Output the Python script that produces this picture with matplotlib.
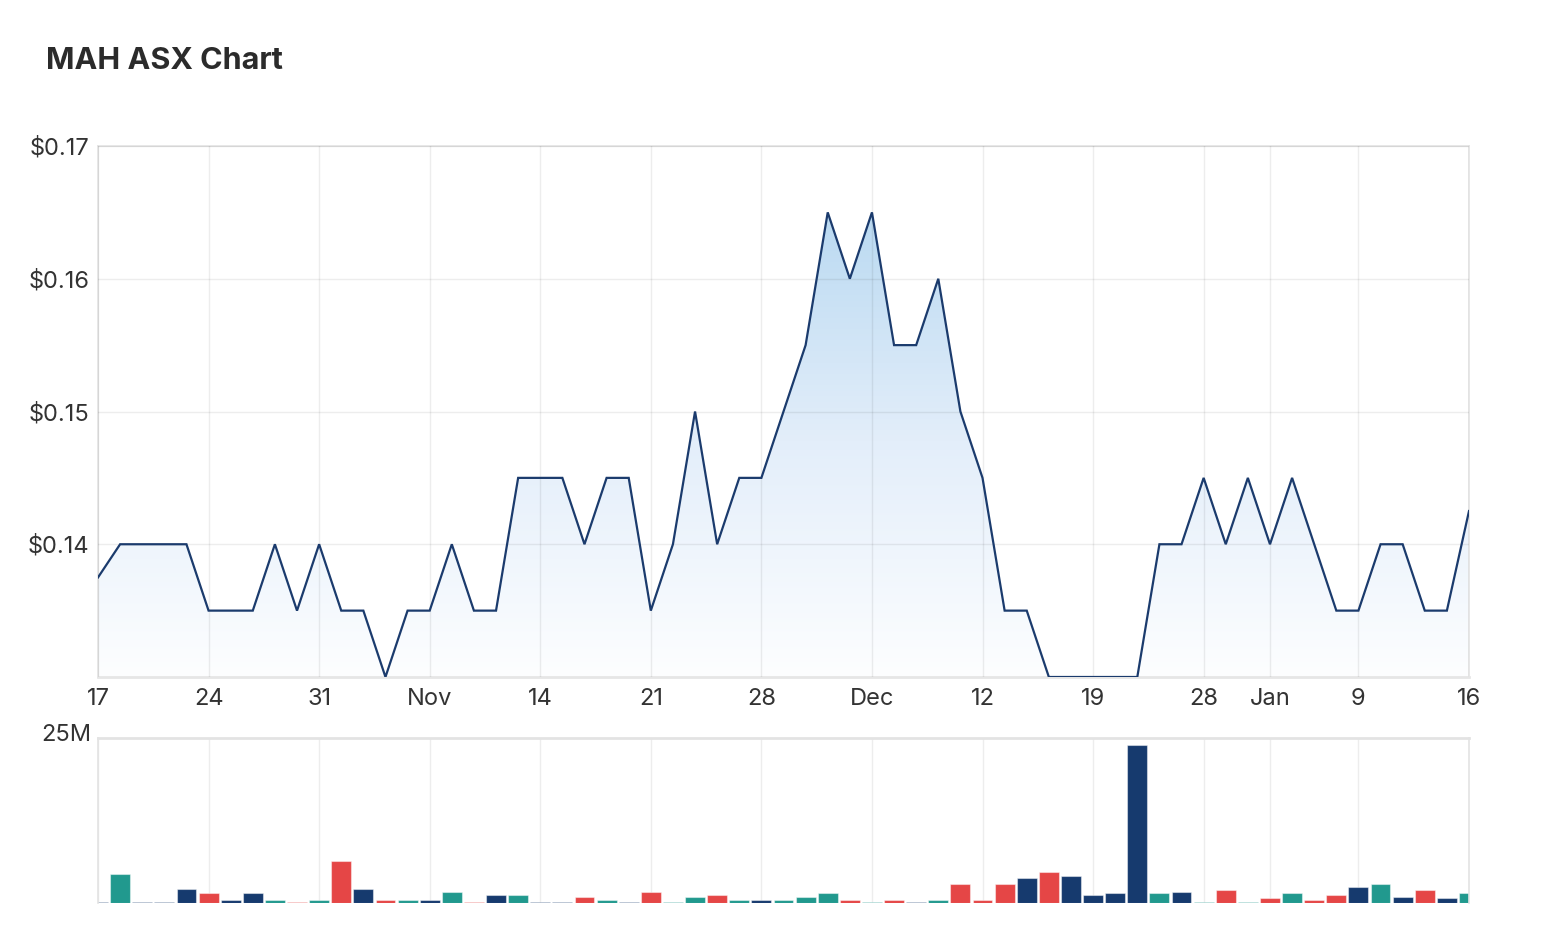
import numpy as np
import matplotlib.pyplot as plt
from matplotlib.colors import LinearSegmentedColormap

plt.rcParams['font.family'] = ['Inter', 'DejaVu Sans']

TXT = '#333333'
NAVY = '#163a6e'
TEAL = '#21998e'
RED = '#e54646'
GRID = (0, 0, 0, 0.07)
FS = 17

# trading days 17 Oct .. 16 Jan, one value per day
prices = [0.1375, 0.14, 0.14, 0.14, 0.14,
          0.135, 0.135, 0.135, 0.14, 0.135,
          0.14, 0.135, 0.135, 0.13, 0.135,
          0.135, 0.14, 0.135, 0.135, 0.145,
          0.145, 0.145, 0.14, 0.145, 0.145,
          0.135, 0.14, 0.15, 0.14, 0.145,
          0.145, 0.15, 0.155, 0.165, 0.16,
          0.165, 0.155, 0.155, 0.16, 0.15,
          0.145, 0.135, 0.135, 0.13, 0.13,
          0.13, 0.13, 0.13, 0.14, 0.14,
          0.145, 0.14, 0.145, 0.14, 0.145,
          0.14, 0.135, 0.135, 0.14, 0.14,
          0.135, 0.135, 0.1425]

# volume in millions
volumes = [0.15, 4.4, 0.1, 0.1, 2.1,
           1.4, 0.4, 1.4, 0.4, 0.15,
           0.4, 6.4, 2.1, 0.4, 0.4,
           0.4, 1.65, 0.15, 1.15, 1.15,
           0.15, 0.15, 0.9, 0.4, 0.15,
           1.65, 0.15, 0.9, 1.15, 0.4,
           0.4, 0.4, 0.9, 1.4, 0.4,
           0.15, 0.4, 0.15, 0.4, 2.9,
           0.4, 2.9, 3.7, 4.6, 4.1,
           1.15, 1.4, 23.9, 1.4, 1.65,
           0.15, 1.9, 0.15, 0.65, 1.4,
           0.4, 1.15, 2.4, 2.9, 0.9,
           1.9, 0.65, 1.4]

tick_idx = [0, 5, 10, 15, 20, 25, 30, 35, 40, 45, 50, 53, 57, 62]
tick_lbl = ['17', '24', '31', 'Nov', '14', '21', '28', 'Dec', '12', '19', '28', 'Jan', '9', '16']

price_ticks = [0.14, 0.15, 0.16, 0.17]

x = np.arange(len(prices))
p = np.array(prices)

# bar colour from day-on-day move
cols = [NAVY]
for i in range(1, len(p)):
    if p[i] > p[i-1] + 1e-9:
        cols.append(TEAL)
    elif p[i] < p[i-1] - 1e-9:
        cols.append(RED)
    else:
        cols.append(NAVY)

fig = plt.figure(figsize=(15.47, 9.4), dpi=100)
fig.patch.set_facecolor('white')

fig.text(46/1547, 1-69/940, 'MAH ASX Chart', fontsize=22, fontweight='bold',
         color='#2b2b2b', ha='left', va='baseline')

L = 98/1547
W = (1469-98)/1547

ax = fig.add_axes([L, 1-677/940, W, (677-146)/940])
ax.set_xlim(0, len(p)-1)
ax.set_ylim(0.13, 0.17)

# gradient fill under the line
cmap = LinearSegmentedColormap.from_list('g', ['#fdfeff', '#e3eefa', '#b9d9f1'])
grad = np.linspace(0, 1, 256).reshape(-1, 1)
poly = ax.fill_between(x, p, 0.13, color='none', lw=0)
im = ax.imshow(grad, cmap=cmap, origin='lower', aspect='auto',
               extent=[0, len(p)-1, 0.13, 0.1655], zorder=1)
im.set_clip_path(poly.get_paths()[0], transform=ax.transData)
ax.plot(x, p, color='#1b3b6d', lw=1.6, zorder=4, solid_joinstyle='miter')

for t in tick_idx:
    ax.axvline(t, color=GRID, lw=1, zorder=3)
for t in price_ticks:
    ax.axhline(t, color=GRID, lw=1, zorder=3)

ax.set_xticks(tick_idx)
ax.set_xticklabels(tick_lbl)
ax.set_yticks(price_ticks)
ax.set_yticklabels(['$%.2f' % v for v in price_ticks])
ax.tick_params(length=0, labelsize=FS, labelcolor=TXT)
ax.tick_params(axis='x', pad=8)
ax.tick_params(axis='y', pad=6)
for s in ax.spines.values():
    s.set_color('#e3e3e3')
    s.set_linewidth(1.2)
ax.spines['bottom'].set_color('#e6e6e6')
ax.spines['bottom'].set_linewidth(2)

# volume panel
av = fig.add_axes([L, 1-902.7/940, W, (902.7-738)/940])
av.set_xlim(0, len(p)-1)
av.set_ylim(0, 25)
for t in tick_idx:
    av.axvline(t, color=GRID, lw=1, zorder=0)
av.bar(x, volumes, width=0.9, color=cols, edgecolor=(1, 1, 1, 0.45), linewidth=0.8, zorder=2)
av.set_xticks([])
av.set_yticks([])
av.annotate('25M', xy=(0, 25), xycoords=('axes fraction', 'data'),
            xytext=(-5, 2), textcoords='offset points', ha='right', va='center',
            fontsize=FS, color=TXT)
for s in av.spines.values():
    s.set_color('#e3e3e3')
    s.set_linewidth(1.2)
av.spines['top'].set_linewidth(2)
av.spines['bottom'].set_visible(False)

plt.savefig('out.png', dpi=100, facecolor='white')
